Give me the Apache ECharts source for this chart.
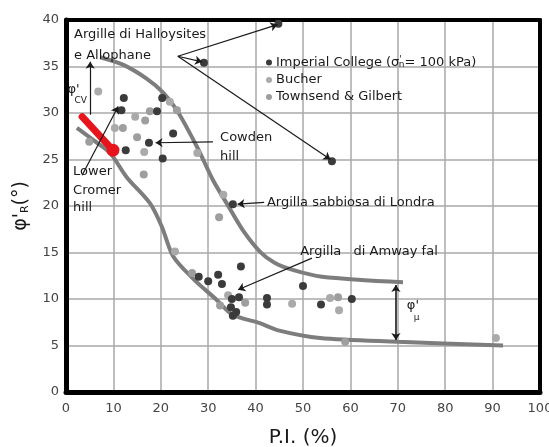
<!DOCTYPE html>
<html>
<head>
<meta charset="utf-8">
<script src="https://cdn.jsdelivr.net/npm/echarts@6/dist/echarts.min.js"></script>
<style>html,body{margin:0;padding:0;background:#fff}#c{width:549px;height:447px}</style>
</head>
<body>
<div id="c"></div>
<script>
// ---- data ----
const xTicks = [0, 10, 20, 30, 40, 50, 60, 70, 80, 90, 100];
const yTicks = [0, 5, 10, 15, 20, 25, 30, 35, 40];

const imperial = [[12.2,31.6],[11.7,30.3],[20.3,31.6],[19.2,30.2],[22.6,27.8],[17.5,26.8],[12.6,26.0],[20.4,25.1],[29.1,35.4],[44.8,39.6],[35.2,20.2],[56.1,24.8],[28.0,12.4],[30.0,11.9],[32.1,12.6],[32.9,11.6],[36.9,13.5],[35.0,10.0],[36.5,10.2],[34.8,9.1],[35.9,8.6],[35.2,8.2],[42.4,10.1],[42.4,9.4],[50.0,11.4],[53.8,9.4],[60.3,10.0]];
const bucher = [[6.8,32.3],[14.6,29.6],[21.9,31.2],[10.3,28.4],[16.5,25.8],[27.7,25.7],[33.2,21.2],[23.0,15.1],[34.2,10.4],[47.7,9.5],[55.7,10.1],[57.6,8.8],[90.7,5.8]];
const townsend = [[16.7,29.2],[17.7,30.2],[23.4,30.3],[12.0,28.4],[15.0,27.4],[4.9,26.9],[16.4,23.4],[32.3,18.8],[26.6,12.8],[37.8,9.6],[32.5,9.3],[57.4,10.2],[58.9,5.4]];

const upperCurve = [[7.2,36],[12,35.2],[17,33.7],[20.5,32.2],[23.4,30.3],[27.6,26.4],[31,22.8],[34,20.2],[37.3,17.4],[40.9,15.1],[44,13.9],[48,13.1],[54,12.4],[71.1,11.8]];
const lowerCurve = [[2.3,28.4],[6,27],[9.3,25.7],[12.8,23.1],[17.7,20.3],[20.2,17.8],[22.6,14.6],[26.8,12.2],[31.8,9.9],[35.2,8.3],[40.9,7.4],[45,6.6],[53.6,5.8],[70,5.4],[92.2,5.0]];

const redLine = [[3.4,29.6],[9.9,26.0]];
const redDot = [[9.9,26.0]];

const arrows = [
  [[23.6,36.1],[44.6,39.5]],
  [[23.6,36.1],[28.7,35.5]],
  [[23.6,36.1],[55.8,25.0]],
  [[5.1,29.8],[5.1,35.5]],
  [[3.4,23.3],[11.0,30.7]],
  [[31.0,26.9],[18.9,26.8]],
  [[41.8,20.4],[36.2,20.2]],
  [[51.9,14.4],[36.3,11.0]]
];
const doubleArrows = [[[69.6,8.6],[69.6,11.5]],[[69.6,8.6],[69.6,5.6]]];

const notes = [
  [1.7, 38.4, 'Argille di Halloysites'],
  [1.7, 36.2, 'e Allophane'],
  [32.5, 27.4, 'Cowden'],
  [32.5, 25.3, 'hill'],
  [1.5, 23.7, 'Lower'],
  [1.5, 21.7, 'Cromer'],
  [1.5, 19.8, 'hill'],
  [42.4, 20.4, 'Argilla sabbiosa di Londra'],
  [49.4, 15.1, 'Argilla   di Amway fal']
];
const greekNotes = [
  [0.3, 32.0, "{g|φ'}\n{s|CV}"],
  [71.9, 8.7, "{g|φ'}\n{s|μ}"]
];

const FONT = 'DejaVu Sans';
const chart = echarts.init(document.getElementById('c'));
const frameAxis = {
  show: true, min: 0, axisLine: {show: true, onZero: false, lineStyle: {color: '#000', width: 4}},
  axisTick: {show: false}, axisLabel: {show: false}, splitLine: {show: false}
};
chart.setOption({
  animation: false,
  backgroundColor: '#fff',
  textStyle: {fontFamily: FONT},
  grid: {left: 66, right: 9, top: 20, bottom: 55, containLabel: false, outerBoundsMode: 'none'},
  legend: {
    orient: 'vertical', left: 261, top: 50, itemWidth: 6, itemHeight: 6, itemGap: 4,
    icon: 'circle',
    data: ['Imperial College', 'Bucher', 'Townsend & Gilbert'],
    formatter: function (n) {
      return n === 'Imperial College' ? "{t|Imperial College (σ}{p|'}{n|n}{t|= 100 kPa)}" : '{t|' + n + '}';
    },
    textStyle: {
      fontFamily: FONT, fontSize: 13, color: '#1a1a1a', padding: [0,0,0,-1],
      rich: {
        t: {fontFamily: FONT, fontSize: 13, color: '#1a1a1a'},
        p: {fontFamily: FONT, fontSize: 9, color: '#1a1a1a', padding: [0,-3,6,0]},
        n: {fontFamily: FONT, fontSize: 9, color: '#1a1a1a', padding: [5,0,0,0]}
      }
    }
  },
  xAxis: [{
    type: 'value', min: 0, max: 100, interval: 10,
    name: 'P.I. (%)', nameLocation: 'middle', nameGap: 36,
    nameTextStyle: {fontFamily: FONT, fontSize: 20, color: '#1a1a1a'},
    axisLine: {show: true, lineStyle: {color: '#000', width: 5}},
    axisTick: {show: false},
    axisLabel: {fontFamily: FONT, fontSize: 13, color: '#444', margin: 10,
      formatter: v => xTicks.includes(v) ? String(v) : ''},
    splitLine: {show: true, lineStyle: {color: '#a8a8a8', width: 1.5}}
  }, Object.assign({type: 'value', position: 'top', max: 100, interval: 10}, frameAxis)],
  yAxis: [{
    type: 'value', min: 0, max: 40, interval: 5,
    name: "φ'{r|R}(°)", nameLocation: 'middle', nameGap: 35, nameRotate: 90,
    nameTextStyle: {fontFamily: FONT, fontSize: 19, color: '#1a1a1a',
      rich: {r: {fontFamily: FONT, fontSize: 11, color: '#1a1a1a', padding: [8,0,0,0]}}},
    axisLine: {show: true, lineStyle: {color: '#000', width: 5}},
    axisTick: {show: false},
    axisLabel: {fontFamily: FONT, fontSize: 13, color: '#444', margin: 7,
      formatter: v => yTicks.includes(v) ? String(v) : ''},
    splitLine: {show: true, lineStyle: {color: '#a8a8a8', width: 1.5}}
  }, Object.assign({type: 'value', position: 'right', max: 40, interval: 5}, frameAxis)],
  series: [
    {type: 'line', name: 'upper', data: upperCurve, smooth: 0.3, symbol: 'none',
      lineStyle: {color: '#7d7d7d', width: 4}, z: 2, silent: true},
    {type: 'line', name: 'lower', data: lowerCurve, smooth: 0.3, symbol: 'none',
      lineStyle: {color: '#7d7d7d', width: 4}, z: 2, silent: true},
    {type: 'scatter', name: 'Bucher', data: bucher, symbolSize: 8,
      itemStyle: {color: '#aaaaaa', opacity: 1}, z: 3},
    {type: 'scatter', name: 'Townsend & Gilbert', data: townsend, symbolSize: 8,
      itemStyle: {color: '#9e9e9e', opacity: 1}, z: 3},
    {type: 'scatter', name: 'Imperial College', data: imperial, symbolSize: 8,
      itemStyle: {color: '#3b3b3b', opacity: 1}, z: 4},
    {type: 'line', name: 'red', data: redLine, symbol: 'none',
      lineStyle: {color: '#e8141c', width: 7, cap: 'round'}, z: 5},
    {type: 'scatter', name: 'reddot', data: redDot, symbolSize: 13,
      itemStyle: {color: '#e8141c', opacity: 1}, z: 5},
    {type: 'lines', coordinateSystem: 'cartesian2d', z: 6,
      data: arrows.map(a => ({coords: a})),
      symbol: ['none', 'arrow'], symbolSize: [0, 7],
      lineStyle: {color: '#1a1a1a', width: 1.2, opacity: 1}},
    {type: 'lines', coordinateSystem: 'cartesian2d', z: 6,
      data: doubleArrows.map(a => ({coords: a})),
      symbol: ['none', 'arrow'], symbolSize: [0, 7],
      lineStyle: {color: '#1a1a1a', width: 1.6, opacity: 1}},
    {type: 'scatter', name: 'notes', data: notes, symbolSize: 0, z: 7, silent: true,
      itemStyle: {opacity: 1},
      label: {show: true, position: 'right', distance: 0, formatter: p => p.data[2],
        fontFamily: FONT, fontSize: 13, color: '#1a1a1a', opacity: 1}},
    {type: 'scatter', name: 'greek', data: greekNotes, symbolSize: 0, z: 7, silent: true,
      itemStyle: {opacity: 1},
      label: {show: true, position: 'right', distance: 0, formatter: p => p.data[2],
        color: '#1a1a1a', lineHeight: 12, opacity: 1,
        rich: {
          g: {fontFamily: FONT, fontSize: 13, color: '#1a1a1a', lineHeight: 13},
          s: {fontFamily: FONT, fontSize: 9, color: '#1a1a1a', lineHeight: 10, padding: [0,0,0,7]}
        }}}
  ]
});
</script>
</body>
</html>
